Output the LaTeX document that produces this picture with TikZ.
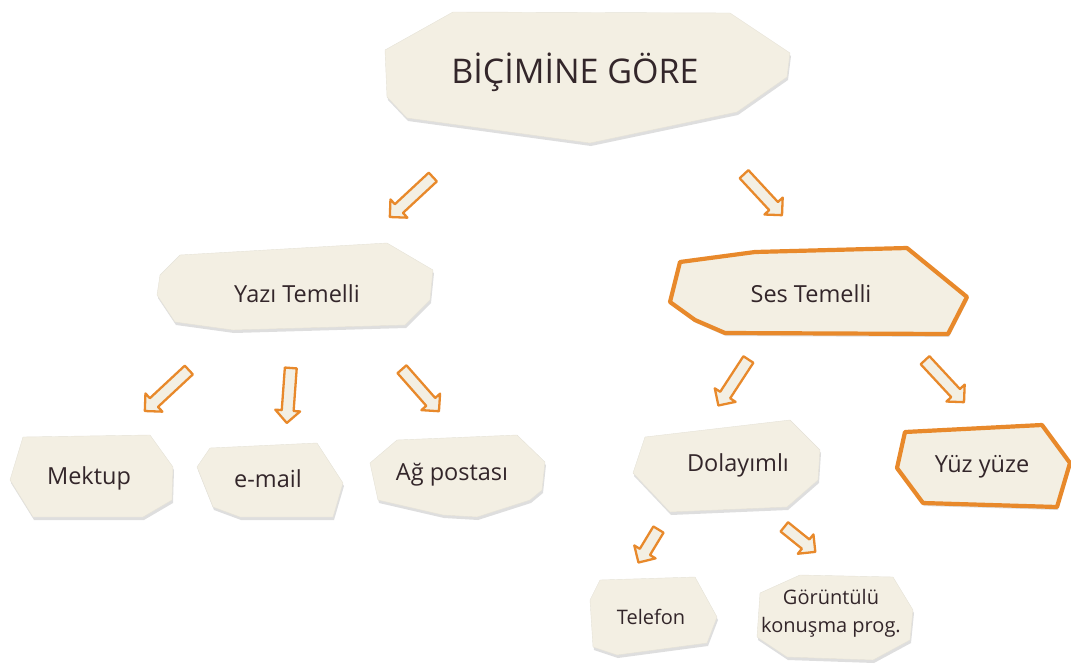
\documentclass[tikz,border=0pt]{standalone}
\usepackage{fontspec}
\setmainfont{Open Sans}
\usetikzlibrary{calc,shapes.arrows,shadows}
\definecolor{cream}{HTML}{F3EFE3}
\definecolor{orangeC}{HTML}{E8892B}
\definecolor{inkC}{HTML}{33262A}
\tikzset{
  card/.style={fill=cream, draw=cream!88!gray, line width=0.4pt, line join=round,
    drop shadow={shadow xshift=1pt, shadow yshift=-3pt, opacity=0.13, fill=black}},
  hicard/.style={card, draw=orangeC, line width=4.2pt},
  lbl/.style={text=inkC, font=\fontsize{23.5}{27}\selectfont, inner sep=0pt, align=center},
  small/.style={lbl, font=\fontsize{20}{28}\selectfont},
  blockarr/.style={single arrow, draw=orangeC, fill=cream, line width=2.3pt,
    line join=round, inner sep=4.8pt, single arrow head extend=6.5pt,
    single arrow tip angle=90, single arrow head indent=0pt, minimum width=0pt}
}
\newcommand{\barrow}[2]{%
  \path let \p1=($(#2)-(#1)$), \n1={atan2(\y1,\x1)}, \n2={veclen(\x1,\y1)} in
    node[blockarr, rotate=\n1, minimum height=\n2] at ($(#1)!0.5!(#2)$) {};}
\begin{document}
\begin{tikzpicture}[x=1pt,y=-1pt]
\useasboundingbox (0,0) rectangle (1071,664);
% cards
\path[card] (453,12) -- (730,13) -- (790,53) -- (787,77) -- (737,112) -- (590,143) -- (407,118) -- (387,97) -- (385,50) -- cycle;
\path[card] (180,255) -- (387,243) -- (433,270) -- (430,300) -- (405,325) -- (233,330) -- (175,322) -- (157,295) -- (160,275) -- cycle;
\path[hicard] (680,262) -- (755,252) -- (907,248) -- (967,297) -- (948,334) -- (725,333) -- (695,320) -- (670,302) -- cycle;
\path[card] (23,437) -- (150,435) -- (173,467) -- (172,500) -- (143,517) -- (33,517) -- (10,480) -- cycle;
\path[card] (210,448) -- (317,443) -- (343,483) -- (333,517) -- (240,517) -- (213,507) -- (197,467) -- cycle;
\path[card] (397,440) -- (517,435) -- (545,462) -- (542,490) -- (530,500) -- (477,517) -- (443,515) -- (378,500) -- (370,463) -- cycle;
\path[card] (645,437) -- (790,420) -- (820,450) -- (818,480) -- (787,507) -- (670,512) -- (633,473) -- cycle;
\path[hicard] (905,432) -- (1042,425) -- (1070,463) -- (1057,507) -- (923,503) -- (897,468) -- cycle;
\path[card] (600,580) -- (695,577) -- (717,617) -- (707,643) -- (617,655) -- (593,647) -- (590,600) -- cycle;
\path[card] (760,593) -- (800,575) -- (893,577) -- (913,610) -- (910,640) -- (873,660) -- (787,657) -- (757,637) -- cycle;
% labels
\node[lbl, font=\fontsize{34}{38}\selectfont] (top) at (575,72) {BİÇİMİNE GÖRE};
\node[lbl] (yazi) at (297,294) {Yazı Temelli};
\node[lbl] (ses) at (811,294) {Ses Temelli};
\node[lbl] (mektup) at (89,478) {Mektup};
\node[lbl] (email) at (268,479) {e-mail};
\node[lbl] (ag) at (452,475) {Ağ postası};
\node[lbl] (dol) at (738,465) {Dolayımlı};
\node[lbl] (yuz) at (982,467) {Yüz yüze};
\node[small] (tel) at (651,617) {Telefon};
\node[small] (gor) at (831,613) {Görüntülü\\konuşma prog.};
% arrow end points
\coordinate (a1s) at (435,175); \coordinate (a1e) at (392,215);
\coordinate (a2s) at (742,172); \coordinate (a2e) at (780,213);
\coordinate (a3s) at (191,368); \coordinate (a3e) at (147,409);
\coordinate (a4s) at (291,365); \coordinate (a4e) at (287,420);
\coordinate (a5s) at (400,367); \coordinate (a5e) at (437,409);
\coordinate (a6s) at (750,357); \coordinate (a6e) at (720,403);
\coordinate (a7s) at (923,358); \coordinate (a7e) at (962,400);
\coordinate (a8s) at (660,527); \coordinate (a8e) at (640,560);
\coordinate (a9s) at (782,525); \coordinate (a9e) at (813,550);
\barrow{a1s}{a1e}
\barrow{a2s}{a2e}
\barrow{a3s}{a3e}
\barrow{a4s}{a4e}
\barrow{a5s}{a5e}
\barrow{a6s}{a6e}
\barrow{a7s}{a7e}
\barrow{a8s}{a8e}
\barrow{a9s}{a9e}
\end{tikzpicture}
\end{document}
